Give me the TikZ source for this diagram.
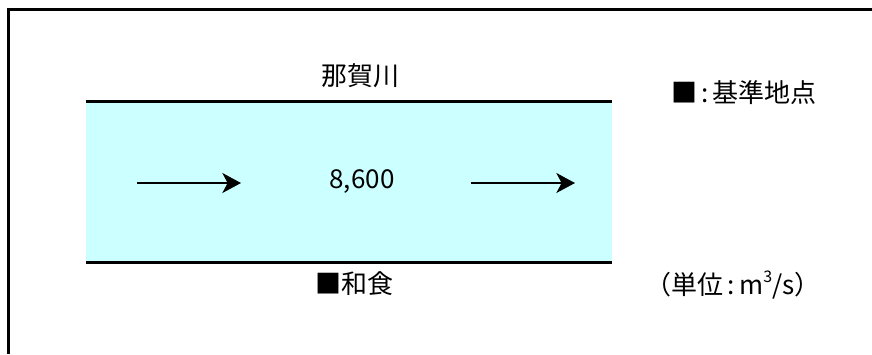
\documentclass[tikz,border=0pt]{standalone}
\usepackage{fontspec}
\setmainfont{Noto Sans CJK JP}
\usetikzlibrary{arrows.meta}
\definecolor{river}{HTML}{CCFFFF}
\tikzset{
  lbl/.style={inner sep=0pt, font=\fontsize{19.5}{22}\selectfont},
  flow/.style={line width=1.5pt, -{Stealth[length=14pt,width=15pt,inset=4pt]}},
  bank/.style={line width=2.3pt},
  frame/.style={line width=2.3pt, line join=miter}
}
\begin{document}
\begin{tikzpicture}[x=0.75pt,y=-0.75pt]
\useasboundingbox (0,0) rectangle (872,354);
% frame
\coordinate (fb) at (8.3,354);
\coordinate (fc) at (8.3,9.7);
\coordinate (fr) at (872,9.7);
\draw[frame] (fb) -- (fc) -- (fr);
% river
\coordinate (rtl) at (86,101.5);
\coordinate (rbr) at (612,262.5);
\fill[river] (rtl) rectangle (rbr);
\coordinate (rtr) at (612,101.5);
\coordinate (rbl) at (86,262.5);
\draw[bank] (rtl) -- (rtr);
\draw[bank] (rbl) -- (rbr);
% arrows
\coordinate (a1s) at (137,183);
\coordinate (a1e) at (241,183);
\coordinate (a2s) at (471,183);
\coordinate (a2e) at (575,183);
\draw[flow] (a1s) -- (a1e);
\draw[flow] (a2s) -- (a2e);
% labels
\node[lbl] (name) at (360,76) {那賀川};
\node[lbl] (q) at (362,182) {8,600};
\node[lbl] (wash) at (354,284) {■和食};
\node[lbl] (leg) at (744,93) {■\,:\,基準地点};
\node[lbl] (unit) at (733,285) {（単位\,:\,m\raisebox{0.8ex}{\fontsize{12}{13}\selectfont 3}/s）};
\end{tikzpicture}
\end{document}
